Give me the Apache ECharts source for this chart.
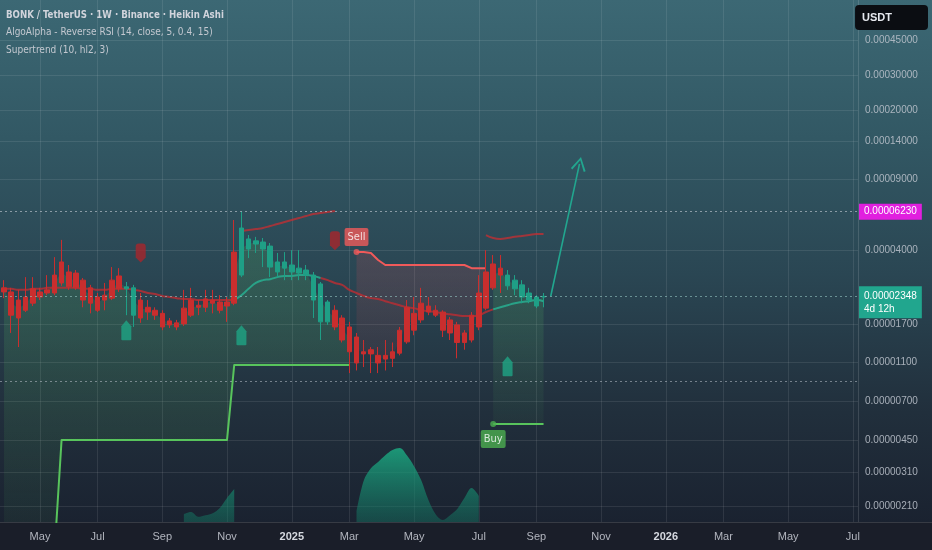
<!DOCTYPE html>
<html><head><meta charset="utf-8">
<script src="https://cdn.jsdelivr.net/npm/echarts@6/dist/echarts.min.js"></script>
<style>
html,body{margin:0;padding:0;}
#c{width:932px;height:550px;background:linear-gradient(180deg,#3c6874 0%,#325864 25%,#2a4653 50%,#212f3c 75%,#1a2230 95%);}
</style>
</head><body><div id="c"></div>
<script>
// ---------- data ----------
const dates = ['2024-03-25','2024-04-01','2024-04-08','2024-04-15','2024-04-22','2024-04-29','2024-05-06','2024-05-13','2024-05-20','2024-05-27',
'2024-06-03','2024-06-10','2024-06-17','2024-06-24','2024-07-01','2024-07-08','2024-07-15','2024-07-22','2024-07-29','2024-08-05',
'2024-08-12','2024-08-19','2024-08-26','2024-09-02','2024-09-09','2024-09-16','2024-09-23','2024-09-30','2024-10-07','2024-10-14',
'2024-10-21','2024-10-28','2024-11-04','2024-11-11','2024-11-18','2024-11-25','2024-12-02','2024-12-09','2024-12-16','2024-12-23',
'2024-12-30','2025-01-06','2025-01-13','2025-01-20','2025-01-27','2025-02-03','2025-02-10','2025-02-17','2025-02-24','2025-03-03',
'2025-03-10','2025-03-17','2025-03-24','2025-03-31','2025-04-07','2025-04-14','2025-04-21','2025-04-28','2025-05-05','2025-05-12',
'2025-05-19','2025-05-26','2025-06-02','2025-06-09','2025-06-16','2025-06-23','2025-06-30','2025-07-07','2025-07-14','2025-07-21',
'2025-07-28','2025-08-04','2025-08-11','2025-08-18','2025-08-25','2025-09-01'];

const open = [2.59e-5,2.47e-5,2.25e-5,2.33e-5,2.56e-5,2.47e-5,2.53e-5,3.00e-5,3.49e-5,3.11e-5,
3.07e-5,2.83e-5,2.59e-5,2.33e-5,2.38e-5,2.83e-5,2.97e-5,2.56e-5,1.89e-5,2.25e-5,
2.07e-5,2.00e-5,1.93e-5,1.77e-5,1.73e-5,2.05e-5,2.25e-5,2.12e-5,2.28e-5,2.25e-5,
2.20e-5,2.20e-5,3.91e-5,3.00e-5,4.05e-5,4.29e-5,4.05e-5,3.29e-5,3.11e-5,3.25e-5,
3.11e-5,3.07e-5,3.00e-5,2.25e-5,1.75e-5,1.75e-5,2.00e-5,1.83e-5,1.65e-5,1.47e-5,
1.24e-5,1.27e-5,1.19e-5,1.19e-5,1.24e-5,1.59e-5,2.07e-5,1.93e-5,2.17e-5,2.10e-5,
2.00e-5,1.96e-5,1.79e-5,1.69e-5,1.54e-5,1.89e-5,2.44e-5,3.11e-5,3.41e-5,3.25e-5,
2.65e-5,2.56e-5,2.33e-5,2.25e-5,2.10e-5,2.33e-5];
const close = [2.47e-5,1.89e-5,1.83e-5,2.00e-5,2.17e-5,2.33e-5,2.44e-5,2.44e-5,2.74e-5,2.62e-5,
2.59e-5,2.25e-5,2.17e-5,2.00e-5,2.25e-5,2.30e-5,2.56e-5,2.62e-5,2.59e-5,1.83e-5,
1.96e-5,1.89e-5,1.65e-5,1.69e-5,1.65e-5,1.71e-5,1.89e-5,2.07e-5,2.07e-5,2.17e-5,
2.00e-5,2.10e-5,2.17e-5,5.16e-5,4.55e-5,4.45e-5,4.39e-5,4.19e-5,3.49e-5,3.49e-5,
3.37e-5,3.25e-5,3.18e-5,3.00e-5,2.71e-5,2.20e-5,1.65e-5,1.42e-5,1.24e-5,1.09e-5,
1.21e-5,1.21e-5,1.09e-5,1.14e-5,1.15e-5,1.22e-5,1.39e-5,1.59e-5,1.79e-5,1.96e-5,
1.89e-5,1.59e-5,1.54e-5,1.38e-5,1.38e-5,1.42e-5,1.65e-5,2.05e-5,2.59e-5,3.00e-5,
3.00e-5,2.83e-5,2.68e-5,2.44e-5,2.33e-5,2.348e-5];
const low = [2.30e-5,1.54e-5,1.31e-5,1.96e-5,2.10e-5,2.25e-5,2.38e-5,2.38e-5,2.65e-5,2.53e-5,
2.53e-5,2.07e-5,1.93e-5,1.96e-5,2.00e-5,2.25e-5,2.47e-5,1.89e-5,1.65e-5,1.73e-5,
1.79e-5,1.79e-5,1.59e-5,1.63e-5,1.59e-5,1.67e-5,1.85e-5,1.89e-5,1.96e-5,1.93e-5,
1.93e-5,1.75e-5,2.12e-5,2.93e-5,3.65e-5,3.87e-5,3.29e-5,2.93e-5,2.93e-5,2.83e-5,
2.83e-5,2.83e-5,2.83e-5,1.83e-5,1.42e-5,1.69e-5,1.59e-5,1.38e-5,0.97e-5,1.00e-5,
1.04e-5,0.97e-5,0.97e-5,1.00e-5,1.04e-5,1.19e-5,1.36e-5,1.50e-5,1.73e-5,1.89e-5,
1.85e-5,1.47e-5,1.42e-5,1.15e-5,1.27e-5,1.38e-5,1.59e-5,2.00e-5,2.53e-5,2.44e-5,
2.53e-5,2.38e-5,2.17e-5,2.17e-5,2.05e-5,2.07e-5];
const high = [2.83e-5,2.59e-5,2.53e-5,2.93e-5,2.93e-5,2.59e-5,3.00e-5,3.69e-5,4.50e-5,3.37e-5,
3.18e-5,2.90e-5,2.68e-5,2.44e-5,2.74e-5,3.29e-5,3.25e-5,2.77e-5,2.68e-5,2.44e-5,
2.25e-5,2.07e-5,2.00e-5,1.83e-5,1.79e-5,2.53e-5,2.59e-5,2.25e-5,2.53e-5,2.53e-5,
2.38e-5,2.33e-5,5.66e-5,6.23e-5,4.76e-5,4.66e-5,4.60e-5,4.34e-5,3.87e-5,3.91e-5,
4.00e-5,4.00e-5,3.37e-5,3.11e-5,2.77e-5,2.25e-5,2.12e-5,1.89e-5,1.75e-5,1.54e-5,
1.42e-5,1.31e-5,1.31e-5,1.42e-5,1.38e-5,1.65e-5,2.25e-5,2.33e-5,2.59e-5,2.33e-5,
2.12e-5,2.00e-5,1.85e-5,1.75e-5,1.59e-5,1.96e-5,3.00e-5,4.00e-5,3.78e-5,3.78e-5,
3.18e-5,3.00e-5,2.83e-5,2.59e-5,2.38e-5,2.44e-5];
// indicator colouring of the candles: 1 = bullish (teal), -1 = bearish (red)
const candleTrend = [-1,-1,-1,-1,-1,-1,-1,-1,-1,-1, -1,-1,-1,-1,-1,-1,-1,1,1,-1,
-1,-1,-1,-1,-1,-1,-1,-1,-1,-1, -1,-1,-1,1,1,1,1,1,1,1,
1,1,1,1,1,1,-1,-1,-1,-1, -1,-1,-1,-1,-1,-1,-1,-1,-1,-1,
-1,-1,-1,-1,-1,-1,-1,-1,-1,-1, 1,1,1,1,1,1];

// Reverse RSI basis line and its trend
const basis = [2.56e-5,2.56e-5,2.53e-5,2.53e-5,2.56e-5,2.56e-5,2.59e-5,2.59e-5,2.59e-5,2.59e-5,
2.59e-5,2.56e-5,2.56e-5,2.53e-5,2.53e-5,2.56e-5,2.56e-5,2.56e-5,2.53e-5,2.50e-5,
2.44e-5,2.41e-5,2.36e-5,2.33e-5,2.30e-5,2.28e-5,2.28e-5,2.25e-5,2.25e-5,2.25e-5,
2.25e-5,2.25e-5,2.25e-5,2.38e-5,2.56e-5,2.74e-5,2.83e-5,2.86e-5,2.93e-5,2.97e-5,
2.97e-5,3.00e-5,3.00e-5,2.97e-5,2.90e-5,2.83e-5,2.74e-5,2.68e-5,2.53e-5,2.44e-5,
2.36e-5,2.30e-5,2.28e-5,2.22e-5,2.17e-5,2.12e-5,2.07e-5,2.05e-5,2.00e-5,1.98e-5,
1.96e-5,1.93e-5,1.91e-5,1.89e-5,1.87e-5,1.87e-5,1.89e-5,1.96e-5,2.02e-5,2.07e-5,
2.12e-5,2.17e-5,2.20e-5,2.22e-5,2.25e-5,2.22e-5];
const basisTrend = [-1,-1,-1,-1,-1,-1,-1,-1,-1,-1, -1,-1,-1,-1,-1,-1,-1,-1,-1,-1,
-1,-1,-1,-1,-1,-1,-1,-1,-1,-1, -1,-1,1,1,1,1,1,1,1,1,
1,1,1,1,1,-1,-1,-1,-1,-1, -1,-1,-1,-1,-1,-1,-1,-1,-1,-1,
-1,-1,-1,-1,-1,-1,-1,-1,1,1, 1,1,1,1,1,1];
// Reverse RSI upper band
const upperBand = [null,null,null,null,null,null,null,null,null,null,
null,null,null,null,null,null,null,null,null,null,
null,null,null,null,null,null,null,null,null,null,
null,null,null,4.99e-5,5.04e-5,5.10e-5,5.16e-5,5.28e-5,5.40e-5,5.53e-5,
5.66e-5,5.79e-5,5.92e-5,6.06e-5,6.13e-5,6.20e-5,6.27e-5,null,null,null,
null,null,null,null,null,null,null,null,null,null,
null,null,null,null,null,null,null,4.76e-5,4.60e-5,4.55e-5,
4.60e-5,4.66e-5,4.71e-5,4.76e-5,4.81e-5,4.81e-5];

// Supertrend (10, hl2, 3)
const supertrend = [1.2e-6,1.2e-6,1.2e-6,1.2e-6,1.2e-6,1.2e-6,1.2e-6,1.2e-6,4.49e-6,4.49e-6,
4.49e-6,4.49e-6,4.49e-6,4.49e-6,4.49e-6,4.49e-6,4.49e-6,4.49e-6,4.49e-6,4.49e-6,
4.49e-6,4.49e-6,4.49e-6,4.49e-6,4.49e-6,4.49e-6,4.49e-6,4.49e-6,4.49e-6,4.49e-6,
4.49e-6,4.49e-6,1.065e-5,1.065e-5,1.065e-5,1.065e-5,1.065e-5,1.065e-5,1.065e-5,1.065e-5,
1.065e-5,1.065e-5,1.065e-5,1.065e-5,1.065e-5,1.065e-5,1.065e-5,1.065e-5,1.065e-5,3.91e-5,
3.91e-5,3.87e-5,3.57e-5,3.37e-5,3.37e-5,3.37e-5,3.37e-5,3.37e-5,3.37e-5,3.37e-5,
3.37e-5,3.37e-5,3.37e-5,3.37e-5,3.37e-5,3.25e-5,3.25e-5,3.25e-5,5.39e-6,5.39e-6,
5.39e-6,5.39e-6,5.39e-6,5.39e-6,5.39e-6,5.39e-6];
const stTrend = [1,1,1,1,1,1,1,1,1,1, 1,1,1,1,1,1,1,1,1,1,
1,1,1,1,1,1,1,1,1,1, 1,1,1,1,1,1,1,1,1,1,
1,1,1,1,1,1,1,1,1,-1, -1,-1,-1,-1,-1,-1,-1,-1,-1,-1,
-1,-1,-1,-1,-1,-1,-1,-1,1,1, 1,1,1,1,1,1];

// bottom oscillator (relative height, 0-100)
const oscillator = [null,null,null,null,null,null,null,null,null,null,
null,null,null,null,null,null,null,null,null,null,
null,null,null,null,null,1.5,1.9,1.0,1.3,1.7,
2.7,4.6,6.3,null,null,null,null,null,null,null,
null,null,null,null,null,null,null,null,null,2.0,
7.9,10.3,11.5,12.8,13.8,14.2,12.8,10.7,8.0,4.2,
1.5,0.4,1.3,2.5,4.6,6.5,5.0,null,null,null,
null,null,null,null,null,null];

// signals
const tealSignalDates = ['2024-07-22','2024-11-11','2025-07-28'];
const tealSignalValues = [1.59e-5,1.50e-5,1.05e-5];
const redSignalDates = ['2024-08-05','2025-02-10'];
const redSignalValues = [3.87e-5,4.45e-5];
const sellPoint = ['2025-03-03',3.91e-5];
const buyPoint = ['2025-07-14',5.39e-6];
const projectionDates = ['2025-09-08','2025-10-06'];
const projectionValues = [2.35e-5,1.08e-4];

// price lines
const athLevel = 6.23e-5, athLabel = '0.00006230';
const lastPrice = 2.348e-5, lastLabel = '0.00002348\n4d 12h';
const supportLevel = 8.85e-6;

// axis ticks
const yTickValues = [4.5e-4,3.0e-4,2.0e-4,1.4e-4,9.0e-5,4.0e-5,1.7e-5,1.1e-5,7.0e-6,4.5e-6,3.1e-6,2.1e-6];
const yTickLabels = ['0.00045000','0.00030000','0.00020000','0.00014000','0.00009000','0.00004000','0.00001700','0.00001100','0.00000700','0.00000450','0.00000310','0.00000210'];
const xTickDates = ['2024-04-29','2024-06-24','2024-08-26','2024-10-28','2024-12-30','2025-02-24','2025-04-28','2025-06-30','2025-08-25','2025-10-27','2025-12-29','2026-02-23','2026-04-27','2026-06-29'];
const xTickLabels = ['May','Jul','Sep','Nov','2025','Mar','May','Jul','Sep','Nov','2026','Mar','May','Jul'];
const xRange = ['2024-03-21 02:00','2026-07-04 00:00'];
const yRange = [1.745e-6,7.134e-4];

// ---------- chart ----------
const T = s => +echarts.time.parse(s);
const RED = '#c92e2e', TEAL = '#1f9f86';
const FONT = "'Liberation Sans Narrow','DejaVu Sans Condensed','Liberation Sans',sans-serif";
const AXFONT = "'Liberation Sans',sans-serif";

const candleData = dates.map((d, i) => {
  const c = candleTrend[i] > 0 ? TEAL : RED;
  return {value: [T(d), open[i], close[i], low[i], high[i]],
          itemStyle: {color: c, color0: c, borderColor: c, borderColor0: c}};
});
const series2 = (arr, keep) => dates.map((d, i) => [T(d), keep(i) ? arr[i] : null]);

const bandSegments = [];
{ let s = 0; for (let i = 1; i <= stTrend.length; i++) { if (i === stTrend.length || stTrend[i] !== stTrend[s]) { bandSegments.push([s, i - 1, stTrend[s]]); s = i; } } }

const isYear = s => /^\d{4}$/.test(s);
const gridMarks = [
  ...yTickValues.map((v, i) => ({yAxis: v, label: {formatter: yTickLabels[i]}})),
  ...xTickDates.map((d, i) => ({xAxis: T(d), label: {formatter: xTickLabels[i], position: 'start', distance: 9,
      fontSize: 11, fontWeight: isYear(xTickLabels[i]) ? 'bold' : 'normal',
      color: isYear(xTickLabels[i]) ? '#d6d9e0' : '#b2b5be'}}))
];

const option = {
  animation: false,
  backgroundColor: 'transparent',
  title: [
    {text: 'BONK / TetherUS · 1W · Binance · Heikin Ashi', left: 6, top: 10, padding: 0,
     textStyle: {color: '#d1d4dc', fontSize: 9.6, fontWeight: 'bold', fontFamily: FONT}},
    {text: 'AlgoAlpha - Reverse RSI (14, close, 5, 0.4, 15)', left: 6, top: 27, padding: 0,
     textStyle: {color: '#c3c8d0', fontSize: 10, fontWeight: 'normal', fontFamily: FONT}},
    {text: 'Supertrend (10, hl2, 3)', left: 6, top: 45, padding: 0,
     textStyle: {color: '#c3c8d0', fontSize: 10, fontWeight: 'normal', fontFamily: FONT}},
    {text: 'USDT', right: 4, top: 5, padding: [7, 36, 7, 7], backgroundColor: '#0b0d12', borderRadius: 4,
     textStyle: {color: '#e6e8ee', fontSize: 11, fontWeight: 'bold', fontFamily: AXFONT}}
  ],
  grid: {left: 0, right: 74, top: 0, bottom: 28, containLabel: false},
  xAxis: {type: 'time', min: T(xRange[0]), max: T(xRange[1]),
          axisLine: {show: false}, axisTick: {show: false}, axisLabel: {show: false}, splitLine: {show: false}},
  yAxis: [
    {type: 'log', logBase: 10, min: yRange[0], max: yRange[1],
     axisLine: {show: false}, axisTick: {show: false}, axisLabel: {show: false}, splitLine: {show: false}},
    {type: 'value', min: 0, max: 100, show: false}
  ],
  graphic: [
    {type: 'rect', left: 0, top: 522, z: -10, silent: true, shape: {width: 932, height: 28}, style: {fill: '#1a1e29'}},
    {type: 'line', silent: true, shape: {x1: 858.5, y1: 0, x2: 858.5, y2: 522}, style: {stroke: 'rgba(255,255,255,0.13)', lineWidth: 1}},
    {type: 'line', silent: true, shape: {x1: 0, y1: 522.5, x2: 932, y2: 522.5}, style: {stroke: 'rgba(255,255,255,0.13)', lineWidth: 1}}
  ],
  series: [
    { // supertrend fills
      type: 'custom', clip: true, z: 1, silent: true,
      data: bandSegments.map(s => [T(dates[s[0]]), supertrend[s[0]], s[0], s[1], s[2]]),
      encode: {x: 0, y: 1},
      renderItem: (params, api) => {
        const s = bandSegments[params.dataIndex];
        const top = [], bot = [];
        for (let i = s[0]; i <= s[1]; i++) {
          top.push(api.coord([T(dates[i]), (open[i] + close[i]) / 2]));
          bot.push(api.coord([T(dates[i]), supertrend[i]]));
        }
        const up = s[2] > 0;
        const fill = up
          ? new echarts.graphic.LinearGradient(0, 0, 0, 1, [{offset: 0, color: 'rgba(90,190,100,0.20)'}, {offset: 1, color: 'rgba(90,190,100,0.05)'}])
          : new echarts.graphic.LinearGradient(0, 0, 0, 1, [{offset: 0, color: 'rgba(240,80,90,0.16)'}, {offset: 1, color: 'rgba(240,80,90,0.07)'}]);
        return {type: 'polygon', shape: {points: top.concat(bot.reverse())}, style: {fill: fill}};
      }
    },
    { // bottom oscillator
      type: 'line', yAxisIndex: 1, z: 1, silent: true, symbol: 'none', smooth: 0.35,
      data: series2(oscillator, () => true),
      lineStyle: {width: 0},
      areaStyle: {opacity: 1, color: new echarts.graphic.LinearGradient(0, 0, 0, 1, [
        {offset: 0, color: 'rgba(28,170,130,0.85)'}, {offset: 1, color: 'rgba(20,120,100,0.45)'}])}
    },
    { // upper band
      type: 'line', z: 2, silent: true, symbol: 'none', smooth: true,
      data: series2(upperBand, () => true),
      lineStyle: {color: 'rgba(200,45,50,0.75)', width: 2}
    },
    { // basis red
      type: 'line', z: 3, silent: true, symbol: 'none', smooth: true,
      data: series2(basis, i => basisTrend[i] < 0 || basisTrend[i - 1] < 0 || basisTrend[i + 1] < 0),
      lineStyle: {color: 'rgba(190,45,50,0.8)', width: 2}
    },
    { // basis teal + projection arrow
      type: 'line', z: 3, silent: true, symbol: 'none', smooth: true,
      data: series2(basis, i => basisTrend[i] > 0),
      lineStyle: {color: 'rgba(40,175,145,0.85)', width: 2},
      markLine: {silent: true, precision: 12, symbol: ['none', 'path://M0,9 L5,0 L10,9 L8.9,9.8 L5,2.3 L1.1,9.8 Z'], symbolSize: [15, 14],
        lineStyle: {color: '#22a68f', width: 1.6, type: 'solid'}, label: {show: false},
        data: [[{coord: [T(projectionDates[0]), projectionValues[0]]}, {coord: [T(projectionDates[1]), projectionValues[1]]}]]}
    },
    { // supertrend up + axis grid
      type: 'line', z: 3, silent: true, symbol: 'none',
      data: series2(supertrend, i => stTrend[i] > 0),
      lineStyle: {color: '#58c45c', width: 2, join: 'round'},
      markLine: {silent: true, precision: 12, z: 1, symbol: ['none', 'none'],
        lineStyle: {color: 'rgba(255,255,255,0.09)', width: 1, type: 'solid'},
        label: {show: true, position: 'end', distance: 7, color: 'rgba(190,196,206,0.85)', fontSize: 10, fontFamily: AXFONT},
        data: gridMarks}
    },
    { // supertrend down
      type: 'line', z: 3, silent: true, symbol: 'none',
      data: series2(supertrend, i => stTrend[i] < 0),
      lineStyle: {color: '#f05a5a', width: 2, join: 'round'}
    },
    { // candles
      type: 'candlestick', z: 4, silent: true, barWidth: 5,
      encode: {x: 0, y: [1, 2, 3, 4]},
      data: candleData,
      markLine: {silent: true, precision: 12, symbol: ['none', 'none'],
        data: [
          {yAxis: athLevel, lineStyle: {color: 'rgba(200,206,215,0.6)', type: [2, 3], width: 1},
           label: {show: true, position: 'end', distance: 1, formatter: athLabel, backgroundColor: '#e11fdf',
                   color: '#ffffff', padding: [3, 5, 3, 5], fontSize: 10, fontFamily: AXFONT}},
          {yAxis: lastPrice, lineStyle: {color: 'rgba(150,200,195,0.6)', type: [2, 3], width: 1},
           label: {show: true, position: 'end', distance: 1, formatter: lastLabel, backgroundColor: '#21a68e',
                   color: '#ffffff', padding: [3, 5, 3, 5], lineHeight: 13, fontSize: 10, fontFamily: AXFONT, offset: [0, 6]}},
          {yAxis: supportLevel, lineStyle: {color: 'rgba(200,206,215,0.5)', type: [2, 3], width: 1}, label: {show: false}}
        ]}
    },
    { // bullish signals
      type: 'scatter', z: 5, silent: true,
      symbol: 'path://M5,0 L10,6 L10,19 Q10,20 9,20 L1,20 Q0,20 0,19 L0,6 Z', symbolSize: [10, 20],
      itemStyle: {color: '#1fa585'},
      data: tealSignalDates.map((d, i) => [T(d), tealSignalValues[i]])
    },
    { // bearish signals
      type: 'scatter', z: 5, silent: true,
      symbol: 'path://M0,3 Q0,0 3,0 L7,0 Q10,0 10,3 L10,14 L5,19 L0,14 Z', symbolSize: [10, 19],
      itemStyle: {color: '#a8262c'},
      data: redSignalDates.map((d, i) => [T(d), redSignalValues[i]])
    },
    { // Sell label
      type: 'scatter', z: 6, silent: true, symbol: 'circle', symbolSize: 6,
      itemStyle: {color: '#f05a5a'},
      data: [[T(sellPoint[0]), sellPoint[1]]],
      label: {show: true, formatter: 'Sell', position: 'top', distance: 3, backgroundColor: '#f05a5a', color: '#fff',
              padding: [4, 3, 3, 3], borderRadius: 2, fontSize: 11, fontFamily: FONT}
    },
    { // Buy label
      type: 'scatter', z: 6, silent: true, symbol: 'circle', symbolSize: 6,
      itemStyle: {color: '#4caf50'},
      data: [[T(buyPoint[0]), buyPoint[1]]],
      label: {show: true, formatter: 'Buy', position: 'bottom', distance: 3, backgroundColor: '#4caf50', color: '#fff',
              padding: [4, 3, 3, 3], borderRadius: 2, fontSize: 11, fontFamily: FONT}
    }
  ]
};
const chart = echarts.init(document.getElementById('c'));
chart.setOption(option);
</script>
</body></html>
